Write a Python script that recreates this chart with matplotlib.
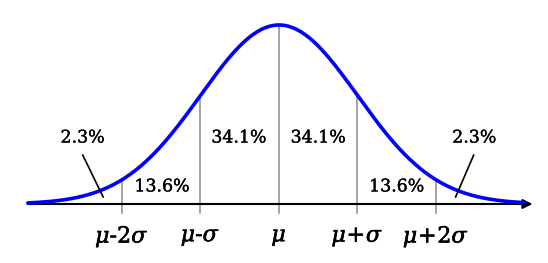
import numpy as np
import matplotlib
matplotlib.use("Agg")
import matplotlib.pyplot as plt
import matplotlib.patheffects as pe

plt.rcParams['mathtext.fontset'] = 'dejavuserif'
plt.rcParams['font.family'] = 'DejaVu Serif'

# boundaries in units of sigma and their labels
bounds = [-2, -1, 0, 1, 2]
bound_labels = [r'$\mu$-$2\sigma$', r'$\mu$-$\sigma$', r'$\mu$',
                r'$\mu\!+\!\sigma$', r'$\mu\!+\!2\sigma$']

# band shares
inner_pct = ["34.1%", "34.1%"]
mid_pct = ["13.6%", "13.6%"]
tail_pct = ["2.3%", "2.3%"]

def pdf(s):
    return np.exp(-s ** 2 / 2) / np.sqrt(2 * np.pi)

fig = plt.figure(figsize=(5.48, 2.63), dpi=100)
ax = fig.add_axes([0, 0, 1, 1])
ax.set_xlim(-3.554, 3.427)
ax.set_ylim(-0.1315, 0.4546)
ax.axis('off')

s = np.linspace(-3.2, 3.13, 400)

# vertical separators
for b in bounds:
    ax.plot([b, b], [-0.02, pdf(b)], color="#8a8a8a", lw=1.1, zorder=1)

# axis with arrow
ax.annotate("", xy=(3.23, 0), xytext=(-3.2, 0),
            arrowprops=dict(arrowstyle="-|>", color="black", lw=1.5,
                            mutation_scale=14, shrinkA=0, shrinkB=0), zorder=2)

ax.plot(s, pdf(s), color="#0000ff", lw=2.6, solid_capstyle="round", zorder=3)

# a touch heavier text, like the reference
heavy = [pe.withStroke(linewidth=0.25, foreground="black")]

fs = 12.5
ax.text(-0.51, 0.147, inner_pct[0], ha="center", va="center", fontsize=fs, path_effects=heavy)
ax.text(0.50, 0.147, inner_pct[1], ha="center", va="center", fontsize=fs, path_effects=heavy)
ax.text(-1.49, 0.038, mid_pct[0], ha="center", va="center", fontsize=fs, path_effects=heavy)
ax.text(1.50, 0.038, mid_pct[1], ha="center", va="center", fontsize=fs, path_effects=heavy)
ax.text(-2.50, 0.147, tail_pct[0], ha="center", va="center", fontsize=fs, path_effects=heavy)
ax.text(2.49, 0.147, tail_pct[1], ha="center", va="center", fontsize=fs, path_effects=heavy)

# leader lines for the tails
ax.plot([-2.50, -2.24], [0.109, 0.0156], color="black", lw=1.2, zorder=4)
ax.plot([2.48, 2.25], [0.109, 0.0156], color="black", lw=1.2, zorder=4)

for b, lab in zip(bounds, bound_labels):
    ax.text(b, -0.074, lab, ha="center", va="center", fontsize=16,
            path_effects=[pe.withStroke(linewidth=0.4, foreground="black")])

fig.savefig("out.png", dpi=100)
